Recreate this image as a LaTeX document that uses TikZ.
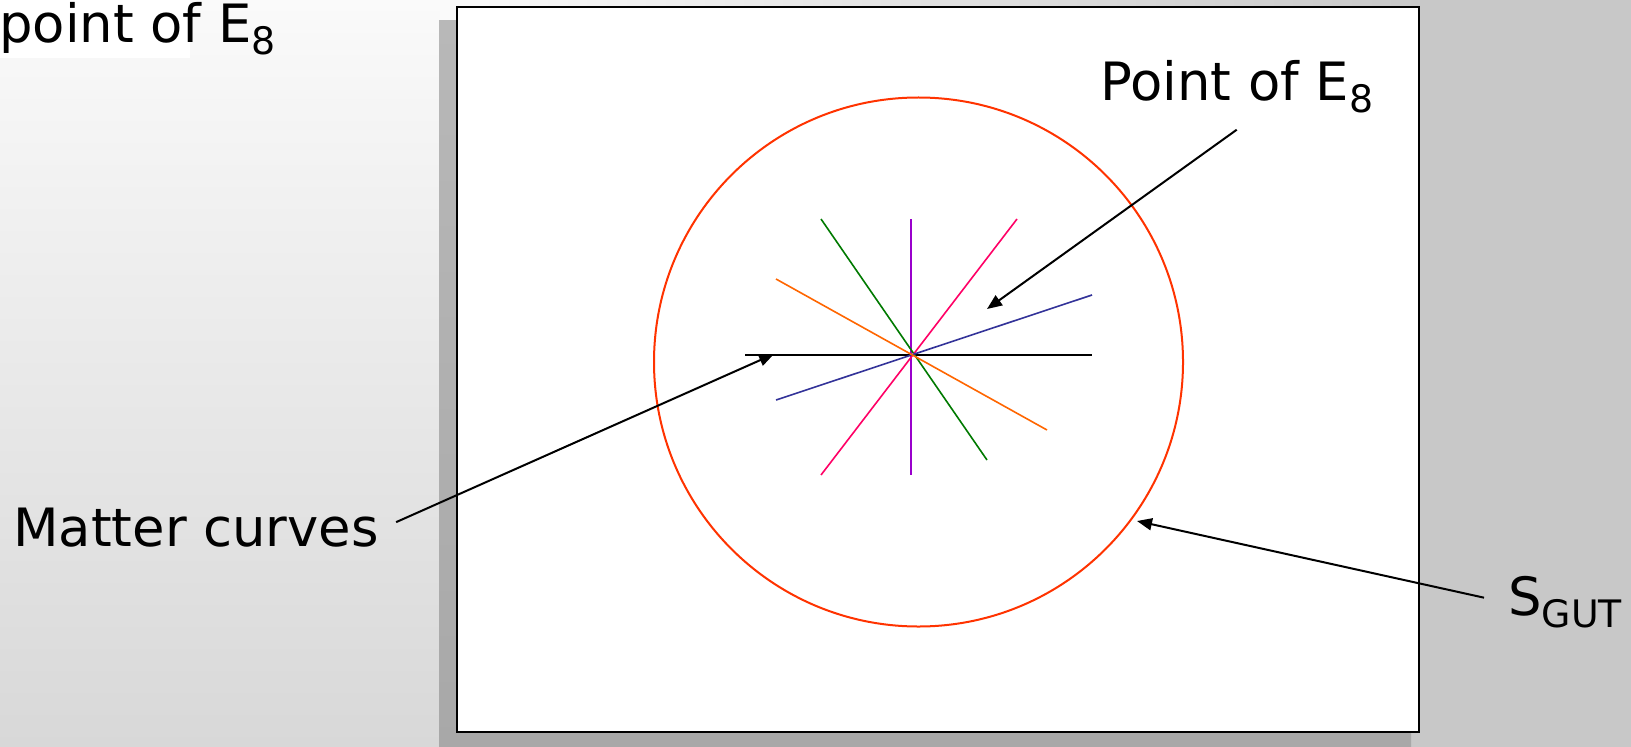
\documentclass[tikz,border=0pt]{standalone}
\usepackage{fontspec}
\setmainfont{DejaVu Sans}
\usepackage{tikz}
\usetikzlibrary{arrows.meta, positioning, calc}
\definecolor{ringc}{HTML}{FF3300}
\definecolor{bgtl}{HTML}{FAFAFA}
\definecolor{bgbl}{HTML}{D8D8D8}
\definecolor{bgr}{HTML}{C8C8C8}
\definecolor{shadtop}{HTML}{B8B8B8}
\definecolor{shadbot}{HTML}{A8A8A8}
\definecolor{lgreen}{HTML}{007A00}
\definecolor{lpurple}{HTML}{9900CC}
\definecolor{lpink}{HTML}{FF0066}
\definecolor{lorange}{HTML}{FF6600}
\definecolor{lblue}{HTML}{333399}
\newcommand{\lowidx}[1]{\raisebox{-12bp}{\fontsize{38}{38}\selectfont #1}}

\begin{document}
\begin{tikzpicture}[x=1bp, y=-1bp,
  lbl/.style={inner sep=0pt, anchor=base west, font=\fontsize{53}{60}\selectfont},
  arr/.style={-{Triangle[length=15bp,width=12bp]}, line width=2bp},
  ray/.style={line width=1.6bp}]
  \useasboundingbox (0,0) rectangle (1631,747);

  % Slide background
  \fill[bgr] (0,0) rectangle (1631,747);
  \shade[top color=bgtl, bottom color=bgbl] (0,0) rectangle (460,747);
  \shade[left color=bgtl, right color=bgr] (440,0) rectangle (1420,30);
  \fill[white] (0,0) rectangle (190,58);

  % Frame with shadow
  \shade[top color=shadtop, bottom color=shadbot] (439,21) rectangle (1411,750);
  \draw[line width=2.5bp, fill=white] (457,7) rectangle (1419,732);

  % The surface S_GUT
  \coordinate (ctr) at (918.5,362);
  \draw[ringc, line width=2bp] (ctr) circle [radius=264.5bp];

  % Matter curves through one point
  \foreach \ax/\ay/\bx/\by/\clr in {745/355/1092/355/black,
      911/219/911/475/lpurple, 821/219/987/460/lgreen,
      1017/219/821/475/lpink, 776/400/1092/295/lblue,
      776/279/1047/430/lorange} {
    \draw[ray, \clr] (\ax,\ay) -- (\bx,\by);
  }

  % Labels
  \node[lbl] (ptop) at (-1,43) {point of E\lowidx{8}};
  \node[lbl] (pe) at (1100,100) {Point of E\lowidx{8}};
  \node[lbl] (mc) at (13,546) {Matter curves};
  \node[lbl] (sg) at (1508,615) {S\lowidx{GUT}};

  % Arrows
  \coordinate (e8tip) at (987,309);
  \coordinate (mctip) at (774,354);
  \coordinate (sgtip) at (1137,521);
  \draw[arr] ([xshift=0bp,yshift=-17bp]pe.south) -- (e8tip);
  \draw[arr] ([xshift=17bp,yshift=5bp]mc.east) -- (mctip);
  \draw[arr] ([xshift=-24bp,yshift=4bp]sg.west) -- (sgtip);
\end{tikzpicture}
\end{document}
